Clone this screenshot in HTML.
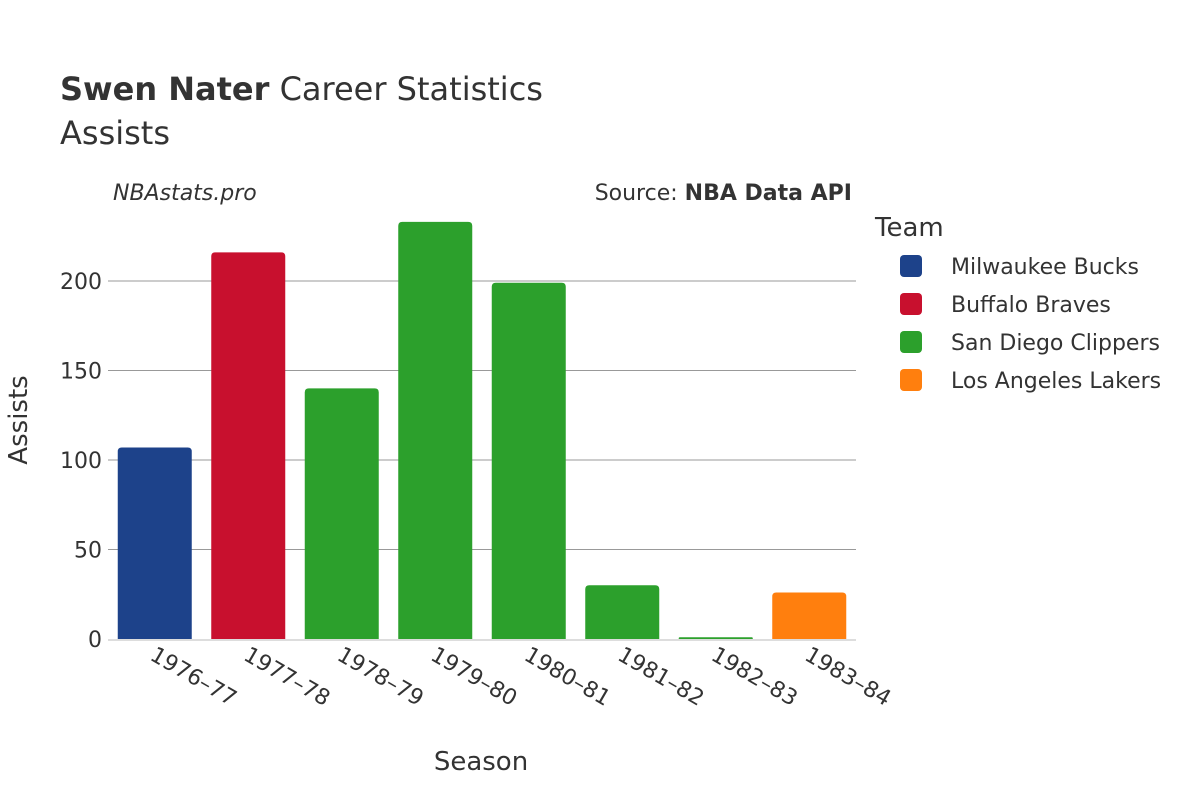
<!DOCTYPE html>
<html><head><meta charset="utf-8"><style>
body{margin:0;background:#fff;}
svg{font-family:"DejaVu Sans","Liberation Sans",sans-serif;}
</style></head><body>
<svg id="chart" width="1200" height="800" xmlns="http://www.w3.org/2000/svg">
<text x="60" y="100" font-size="32" fill="#333"><tspan font-weight="bold">Swen Nater</tspan> Career Statistics</text>
<text x="60" y="144" font-size="32" fill="#333">Assists</text>
<text x="113" y="200" font-size="22" font-style="italic" fill="#333">NBAstats.pro</text>
<text x="852" y="200" font-size="22" fill="#333" text-anchor="end">Source: <tspan font-weight="bold">NBA Data API</tspan></text>
<g id="grid"></g><g id="bars"></g><g id="xt"></g><g id="yt"></g>
<text x="481" y="770" font-size="26" fill="#333" text-anchor="middle">Season</text>
<text transform="translate(27,420) rotate(-90)" font-size="26" fill="#333" text-anchor="middle">Assists</text>
<text x="875" y="236" font-size="26" fill="#333">Team</text>
<g id="legend"></g>
</svg>
<script>
const seasons=["1976–77","1977–78","1978–79","1979–80","1980–81","1981–82","1982–83","1983–84"];
const assists=[107,216,140,233,199,30,1,26];
const teams=["Milwaukee Bucks","Buffalo Braves","San Diego Clippers","San Diego Clippers","San Diego Clippers","San Diego Clippers","San Diego Clippers","Los Angeles Lakers"];
const legendTeams=["Milwaukee Bucks","Buffalo Braves","San Diego Clippers","Los Angeles Lakers"];
const teamColors=["#1d428a","#c8102e","#2ca02c","#ff7f0e"];
const yTicks=[0,50,100,150,200];
const NS="http://www.w3.org/2000/svg";
const x0=108,x1=856,yb=639,yt=281,ymaxv=200;
const bw=(x1-x0)/seasons.length;
const y=v=>yb-(v/ymaxv)*(yb-yt);
const xc=i=>x0+bw*(i+0.5);
function mk(t,a,p){const e=document.createElementNS(NS,t);for(const k in a)e.setAttribute(k,a[k]);document.getElementById(p).appendChild(e);return e;}
yTicks.forEach(v=>{
 if(v>0){const l=mk('line',{x1:x0,x2:x1,y1:y(v),y2:y(v),stroke:'#999','stroke-width':1},'grid');
 
 }
 const t=mk('text',{x:x0-6,y:y(v)+8,'font-size':22,fill:'#333','text-anchor':'end'},'yt');t.textContent=v;
 
 
});
const base=mk('line',{x1:x0,x2:x1,y1:yb+1,y2:yb+1,stroke:'#ddd','stroke-width':2},'grid');


assists.forEach((v,i)=>{
 const w=74,h=Math.max(yb-y(v),1),r=Math.min(4,h/2),bx=xc(i)-w/2,by=yb-h;
 const c=teamColors[legendTeams.indexOf(teams[i])];
 const p=mk('path',{d:`M${bx},${yb}V${by+r}Q${bx},${by} ${bx+r},${by}H${bx+w-r}Q${bx+w},${by} ${bx+w},${by+r}V${yb}Z`,fill:c},'bars');
 
 
 const t=mk('text',{transform:`translate(${xc(i)-6},${yb+20}) rotate(30)`,'font-size':22,fill:'#333'},'xt');t.textContent=seasons[i];
 
 
});
legendTeams.forEach((n,i)=>{
 const yy=266+i*38;
 const r=mk('rect',{x:900,y:yy-11,width:22,height:22,rx:4,fill:teamColors[i]},'legend');
 
 
 const t=mk('text',{x:951,y:yy+8,'font-size':22,fill:'#333'},'legend');t.textContent=n;
 
 
});
</script>
</body></html>
